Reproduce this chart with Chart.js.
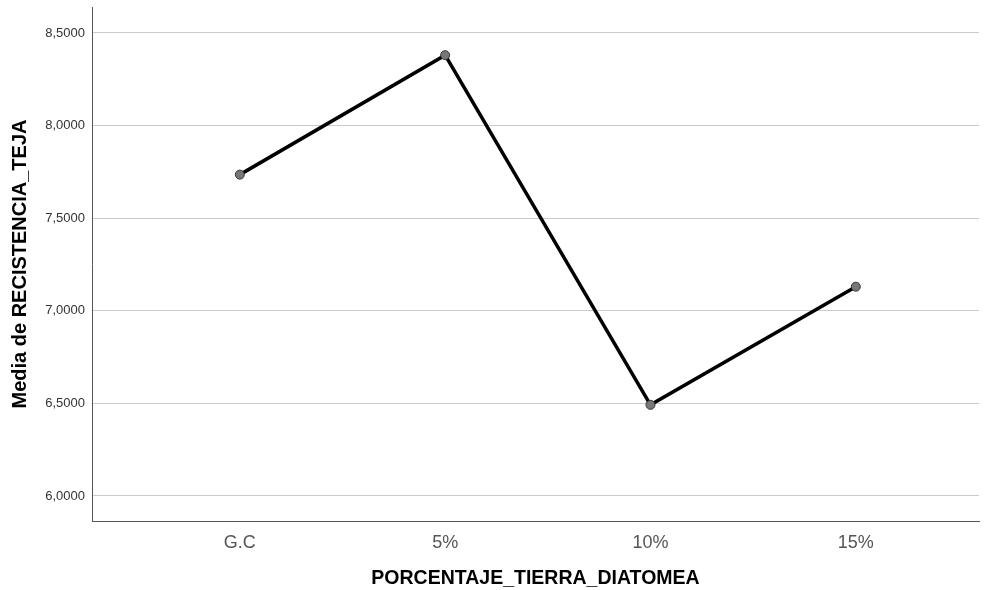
<!DOCTYPE html>
<html>
<head>
<meta charset="utf-8">
<script src="https://cdn.jsdelivr.net/npm/chart.js@4/dist/chart.umd.min.js"></script>
<style>
    html, body { margin: 0; padding: 0; background: #ffffff; }
    #wrap { width: 993px; height: 590px; }
</style>
</head>
<body>
<div id="wrap"><canvas id="media_canvas"></canvas></div>
<script>
// categories and means
let categories = ["G.C", "5%", "10%", "15%"];
let media_values = [7.735, 8.380, 6.492, 7.130];
let y_tick_values = [6.0, 6.5, 7.0, 7.5, 8.0, 8.5];

let points = media_values.map((v, i) => ({ x: i, y: v }));

function format_tick(value) {
    return value.toFixed(4).replace(".", ",");
}

let data = {
    datasets: [
        {
            label: "Media de RECISTENCIA_TEJA",
            data: points,
            borderColor: "#000000",
            borderWidth: 3.5,
            pointRadius: 4.5,
            pointBackgroundColor: "#777777",
            pointBorderColor: "#333333",
            pointBorderWidth: 1,
            tension: 0,
            clip: false
        }
    ]
};

let config = {
    type: 'line',
    data: data,
    options: {
        responsive: true,
        maintainAspectRatio: false,
        animation: false,
        layout: {
            autoPadding: false,
            padding: { left: 0, right: 14, top: 7, bottom: 0 }
        },
        plugins: {
            legend: { display: false },
            tooltip: { enabled: false }
        },
        scales: {
            x: {
                type: 'linear',
                min: -0.72,
                max: 3.6,
                afterBuildTicks: (scale) => {
                    scale.ticks = categories.map((c, i) => ({ value: i }));
                },
                afterFit: (scale) => {
                    scale.height = 69;
                    scale.paddingLeft = 0;
                    scale.paddingRight = 0;
                },
                grid: { display: false, drawTicks: false },
                border: { display: true, color: "#555555", width: 1 },
                ticks: {
                    callback: (value) => categories[value],
                    color: "#555555",
                    padding: 11,
                    maxRotation: 0,
                    autoSkip: false,
                    font: { family: "'Liberation Sans', Arial, sans-serif", size: 18 }
                },
                title: {
                    display: true,
                    text: "PORCENTAJE_TIERRA_DIATOMEA",
                    color: "#000000",
                    padding: { top: 0, bottom: 0 },
                    font: { family: "'Liberation Sans', Arial, sans-serif", size: 19.5, weight: 'bold' }
                }
            },
            y: {
                type: 'linear',
                min: 5.865,
                max: 8.64,
                afterBuildTicks: (scale) => {
                    scale.ticks = y_tick_values.map(v => ({ value: v }));
                },
                afterFit: (scale) => {
                    scale.width = 92;
                    scale.paddingTop = 0;
                    scale.paddingBottom = 0;
                },
                grid: { color: "#cccccc", lineWidth: 1, drawTicks: false },
                border: { display: true, color: "#555555", width: 1 },
                ticks: {
                    callback: (value) => format_tick(value),
                    color: "#333333",
                    padding: 7,
                    font: { family: "'Liberation Sans', Arial, sans-serif", size: 13 }
                },
                title: {
                    display: true,
                    text: "Media de RECISTENCIA_TEJA",
                    color: "#000000",
                    padding: { top: 8, bottom: 0 },
                    font: { family: "'Liberation Sans', Arial, sans-serif", size: 20, weight: 'bold' }
                }
            }
        }
    }
};

let media_plot = new Chart(document.getElementById('media_canvas'), config);
</script>
</body>
</html>
